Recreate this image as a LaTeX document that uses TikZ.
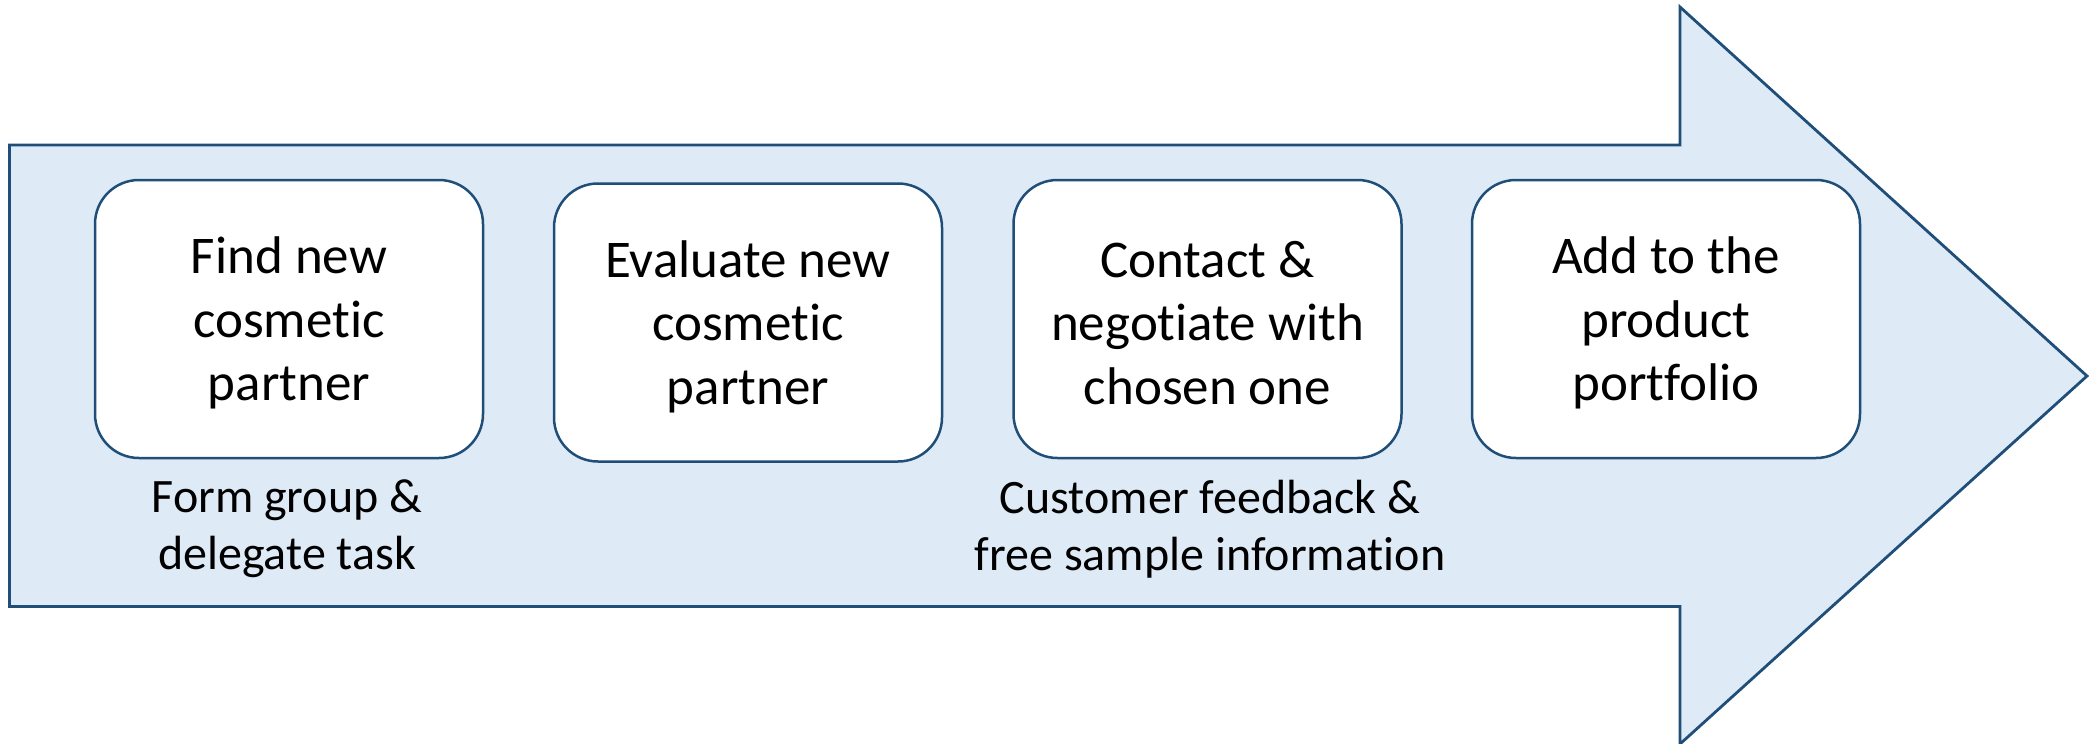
\documentclass[tikz,border=0pt]{standalone}
\usepackage{fontspec}
\setmainfont{Carlito}[Ligatures=NoCommon]
\definecolor{arrowfill}{HTML}{DEEAF6}
\definecolor{edge}{HTML}{1F4E79}
\begin{document}
\begin{tikzpicture}[x=1pt,y=-1pt,
  stepbox/.style={draw=edge, line width=2.5pt, fill=white, rounded corners=44pt,
    minimum width=388pt, minimum height=278pt, inner sep=0pt},
  boxtext/.style={align=center, inner sep=0pt, font=\fontsize{53}{63.5}\selectfont},
  labeltext/.style={align=center, inner sep=0pt, font=\fontsize{48}{57}\selectfont}]
\useasboundingbox (0,0) rectangle (2089,744);
\draw[draw=edge, fill=arrowfill, line width=2.8pt, line join=miter]
  (9.5,145) -- (1680,145) -- (1680,7) -- (2087,376) -- (1680,744) -- (1680,606.5) -- (9.5,606.5) -- cycle;
\node[stepbox] (b1) at (289,319) {};
\node[stepbox] (b2) at (748,322.5) {};
\node[stepbox] (b3) at (1207.5,319) {};
\node[stepbox] (b4) at (1666,319) {};
\node[boxtext] (t1) at (289,323) {Find new\\cosmetic\\partner};
\node[boxtext] (t2) at (748,326.5) {Evaluate new\\cosmetic\\partner};
\node[boxtext] (t3) at (1207.5,323) {Contact \&\\negotiate with\\chosen one};
\node[boxtext] (t4) at (1666,323) {Add to the\\product\\portfolio};
\node[labeltext, anchor=north] (l1) at (287,480) {Form group \&\\delegate task};
\node[labeltext, anchor=north] (l2) at (1210,480) {Customer feedback \&\\free sample information};
\end{tikzpicture}
\end{document}
